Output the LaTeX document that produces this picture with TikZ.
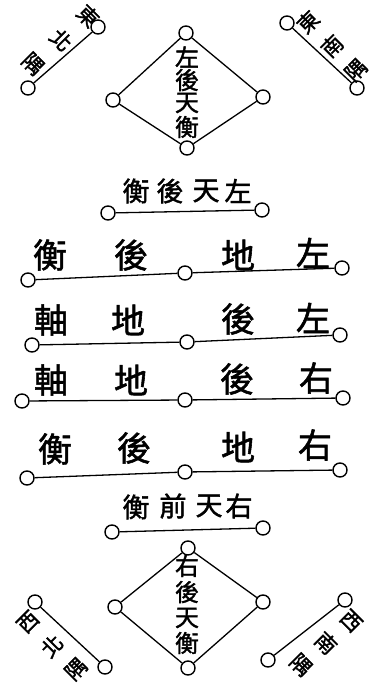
\documentclass[tikz,border=0pt]{standalone}
\usepackage{fontspec}
\newfontfamily\cjk[FakeBold=1.6]{Noto Sans CJK TC}
\tikzset{
  dot/.style={circle,draw,line width=1.4pt,minimum size=14pt,inner sep=0pt,fill=white},
  link/.style={line width=1.3pt},
  big/.style={font=\cjk\fontsize{34}{34}\selectfont,inner sep=0pt},
  mid/.style={font=\cjk\fontsize{27}{27}\selectfont,inner sep=0pt},
  dia/.style={font=\cjk\fontsize{24}{24}\selectfont,inner sep=0pt},
  cor/.style={font=\cjk\fontsize{21}{21}\selectfont,inner sep=0pt},
}
\begin{document}
\begin{tikzpicture}[x=1pt,y=-1pt]
\useasboundingbox[fill=white] (0,0) rectangle (373,684);

% ---------- corner labels ----------
% top-left
\node[dot] (tl1) at (28,88) {};
\node[dot] (tl2) at (98,27) {};
\draw[link] (tl1) -- (tl2);
\node[cor,rotate=-45] (tla) at (88,16) {東};
\node[cor,rotate=-45] (tlb) at (61,40) {北};
\node[cor,rotate=-45] (tlc) at (33,64) {隅};
% top-right
\node[dot] (tr1) at (287,23) {};
\node[dot] (tr2) at (357,88) {};
\draw[link] (tr1) -- (tr2);
\node[cor,rotate=45] (tra) at (308,22) {東};
\node[cor,rotate=45] (trb) at (332,46) {南};
\node[cor,rotate=45] (trc) at (356,70) {隅};
% bottom-left
\node[dot] (bl1) at (35,602) {};
\node[dot] (bl2) at (105,667) {};
\draw[link] (bl1) -- (bl2);
\node[cor,rotate=45] (bla) at (28,622) {西};
\node[cor,rotate=45] (blb) at (52,646) {北};
\node[cor,rotate=45] (blc) at (76,669) {隅};
% bottom-right
\node[dot] (br1) at (345,600) {};
\node[dot] (br2) at (268,660) {};
\draw[link] (br1) -- (br2);
\node[cor,rotate=-45] (bra) at (351,621) {西};
\node[cor,rotate=-45] (brb) at (326,643) {南};
\node[cor,rotate=-45] (brc) at (301,665) {隅};

% ---------- top diamond ----------
\node[dot] (dT) at (186,33) {};
\node[dot] (dL) at (113,100) {};
\node[dot] (dR) at (263,97) {};
\node[dot] (dB) at (187,148) {};
\draw[link] (dT) -- (dL) (dT) -- (dR) (dL) -- (dB) (dR) -- (dB);
\node[dia] (da) at (187,57) {左};
\node[dia] (db) at (187,80) {後};
\node[dia] (dc) at (187,103) {天};
\node[dia] (dd) at (187,127) {衡};

% ---------- label 衡後天左 ----------
\node[mid] (ta) at (136,191) {衡};
\node[mid] (tb) at (170,191) {後};
\node[mid] (tc) at (206,191) {天};
\node[mid] (td) at (238,191) {左};
\node[dot] (tL) at (108,213) {};
\node[dot] (tR) at (262,210) {};
\draw[link] (tL) -- (tR);

% ---------- row 1 ----------
\node[big] (a1) at (50,255) {衡};
\node[big] (a2) at (131,255) {後};
\node[big] (a3) at (238,255) {地};
\node[big] (a4) at (313,253) {左};
\node[dot] (r1a) at (28,280) {};
\node[dot] (r1b) at (185,273) {};
\node[dot] (r1c) at (342,268) {};
\draw[link] (r1a) -- (r1b) -- (r1c);

% ---------- row 2 ----------
\node[big] (b1) at (51,320) {軸};
\node[big] (b2) at (128,320) {地};
\node[big] (b3) at (238,319) {後};
\node[big] (b4) at (313,318) {左};
\node[dot] (r2a) at (32,345) {};
\node[dot] (r2b) at (187,342) {};
\node[dot] (r2c) at (340,335) {};
\draw[link] (r2a) -- (r2b) -- (r2c);

% ---------- row 3 ----------
\node[big] (c1) at (51,380) {軸};
\node[big] (c2) at (131,380) {地};
\node[big] (c3) at (237,379) {後};
\node[big] (c4) at (316,378) {右};
\node[dot] (r3a) at (22,401) {};
\node[dot] (r3b) at (185,400) {};
\node[dot] (r3c) at (343,398) {};
\draw[link] (r3a) -- (r3b) -- (r3c);

% ---------- row 4 ----------
\node[big] (e1) at (55,449) {衡};
\node[big] (e2) at (134,448) {後};
\node[big] (e3) at (238,447) {地};
\node[big] (e4) at (315,445) {右};
\node[dot] (r4a) at (27,478) {};
\node[dot] (r4b) at (185,472) {};
\node[dot] (r4c) at (340,470) {};
\draw[link] (r4a) -- (r4b) -- (r4c);

% ---------- label 衡前天右 ----------
\node[mid] (ua) at (136,507) {衡};
\node[mid] (ub) at (173,506) {前};
\node[mid] (uc) at (209,506) {天};
\node[mid] (ud) at (239,506) {右};
\node[dot] (uL) at (112,532) {};
\node[dot] (uR) at (263,528) {};
\draw[link] (uL) -- (uR);

% ---------- bottom diamond ----------
\node[dot] (eT) at (188,548) {};
\node[dot] (eL) at (115,607) {};
\node[dot] (eR) at (263,602) {};
\node[dot] (eB) at (188,668) {};
\draw[link] (eT) -- (eL) (eT) -- (eR) (eL) -- (eB) (eR) -- (eB);
\node[dia] (ea) at (187,566) {右};
\node[dia] (eb) at (187,592) {後};
\node[dia] (ec) at (187,618) {天};
\node[dia] (ed) at (187,643) {衡};
\end{tikzpicture}
\end{document}
